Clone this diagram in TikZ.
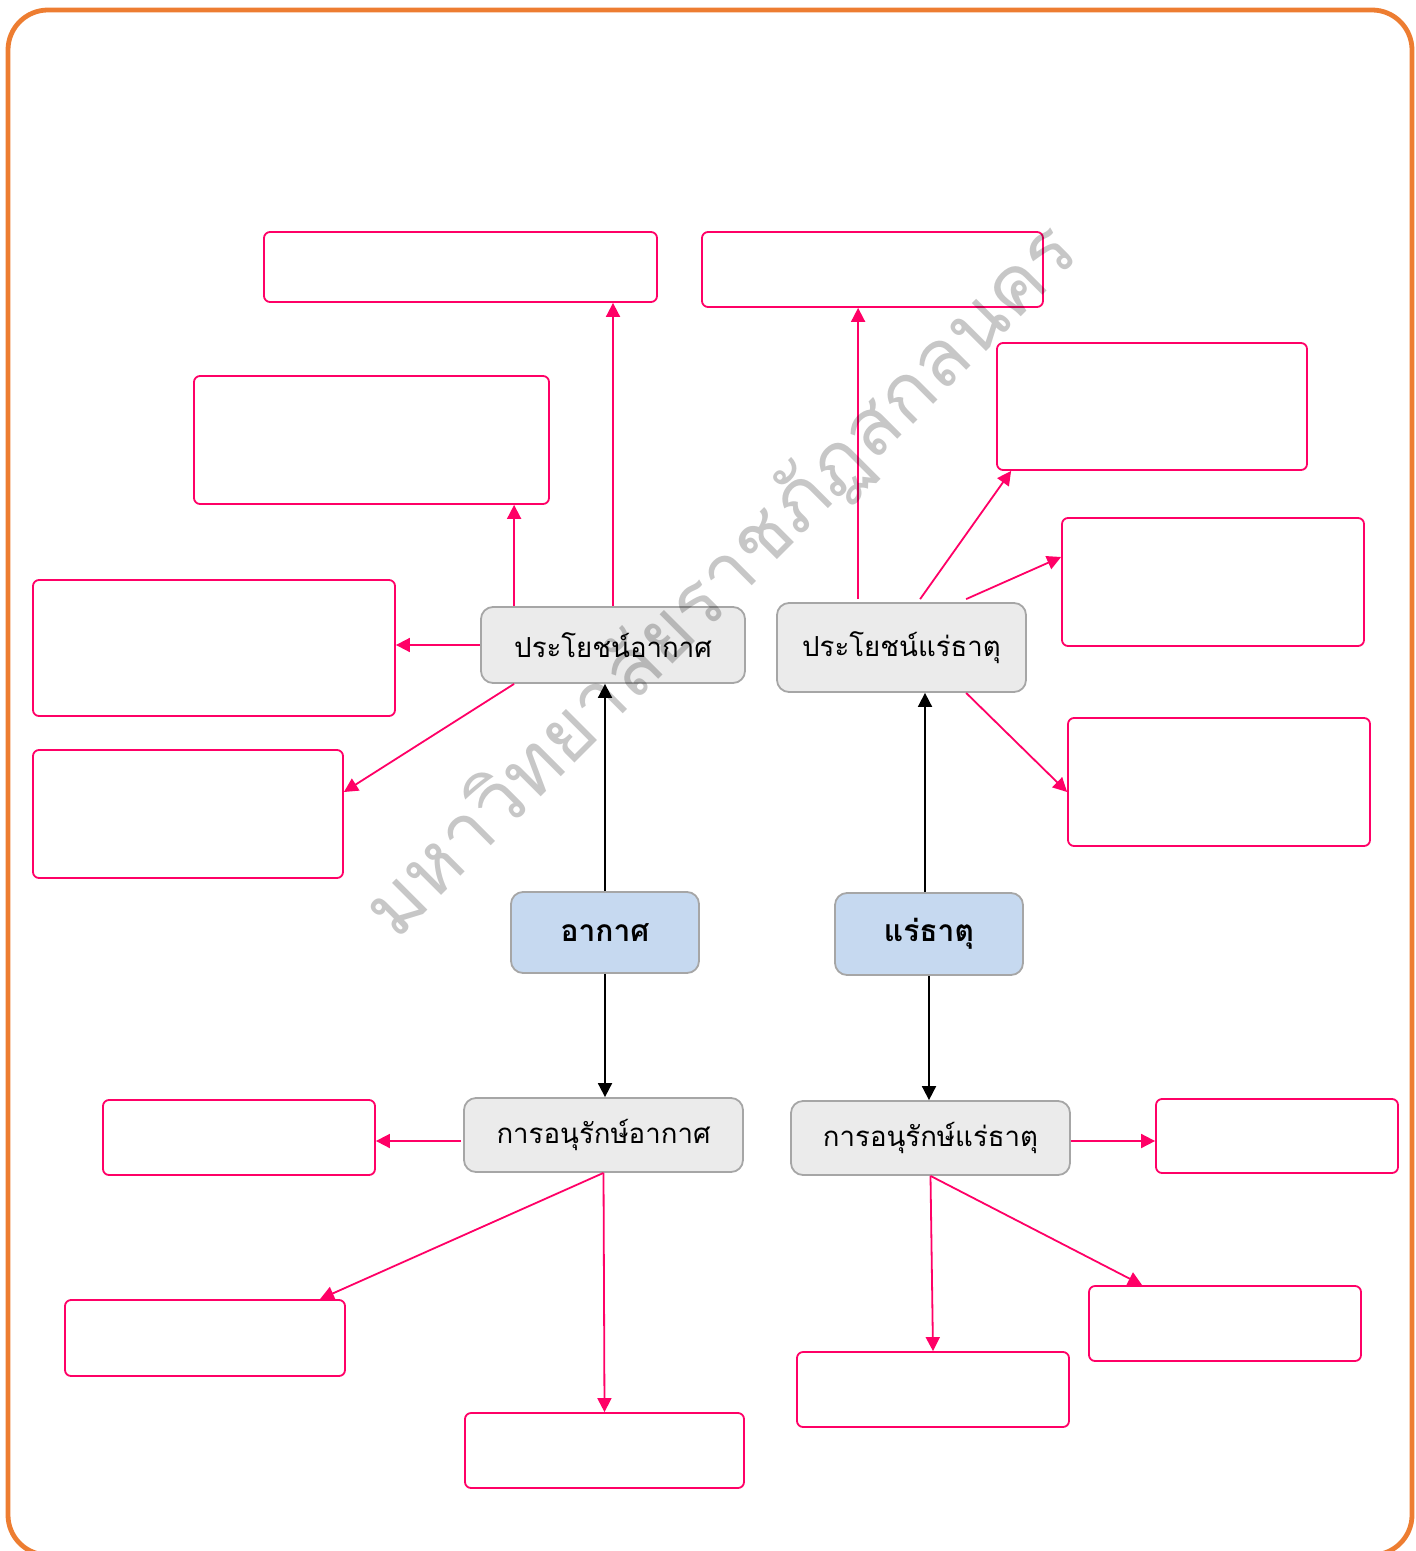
\documentclass[tikz,border=0pt]{standalone}
\usepackage{fontspec}
\usepackage{xcolor}
\usepackage{tikz}
\usetikzlibrary{arrows.meta,calc}
\newfontfamily\thaifont[Script=Thai]{Loma}
\definecolor{framecol}{HTML}{ED7D31}
\definecolor{pinkcol}{HTML}{FF0066}
\definecolor{boxgray}{HTML}{EBEBEB}
\definecolor{linegray}{HTML}{A6A6A6}
\definecolor{boxblue}{HTML}{C6D9F0}
\tikzset{
  frame/.style={draw=framecol, line width=2.4pt, rounded corners=20pt},
  blank/.style={draw=pinkcol, line width=0.9pt, rounded corners=3pt, inner sep=0pt},
  topic/.style={draw=linegray, line width=0.9pt, fill=boxgray, rounded corners=6pt,
    inner sep=0pt, font=\thaifont\fontsize{13.8}{16}\selectfont},
  mainbox/.style={draw=linegray, line width=0.9pt, fill=boxblue, rounded corners=6pt,
    inner sep=0pt, font=\thaifont\bfseries\fontsize{15}{18}\selectfont},
  pinkarrow/.style={draw=pinkcol, line width=0.9pt, -{Triangle[length=7pt,width=7pt]}},
  blackarrow/.style={draw=black, line width=0.9pt, -{Triangle[length=7pt,width=7pt]}}
}
\newcommand{\blankbox}[4]{\node[blank, minimum width=#3pt, minimum height=#4pt](#1) at #2{};}
\begin{document}
\begin{tikzpicture}[x=0.5pt, y=-0.5pt]
    \useasboundingbox (0, 0) rectangle (1416, 1551);
    % frame
    \draw[frame] (8, 10) rectangle (1412, 1555);

    % centre topics
    \node[mainbox, minimum width=94pt, minimum height=40.5pt](air) at (605, 932.5){อากาศ};
    \node[mainbox, minimum width=94pt, minimum height=41pt](mineral) at (929, 934){แร่ธาตุ};
    \node[topic, minimum width=132pt, minimum height=38pt](benefitAir) at (613, 645){ประโยชน์อากาศ};
    \node[topic, minimum width=124.5pt, minimum height=44.5pt](benefitMin) at (901.5, 647.5){ประโยชน์แร่ธาตุ};
    \node[topic, minimum width=139.5pt, minimum height=37pt](consAir) at (603.5, 1135){การอนุรักษ์อากาศ};
    \node[topic, minimum width=139.5pt, minimum height=37pt](consMin) at (930.5, 1138){การอนุรักษ์แร่ธาตุ};

    % empty boxes, air benefits
    \blankbox{airA}{(460.5, 267)}{196.5}{35}
    \blankbox{airB}{(371.5, 440)}{177.5}{64}
    \blankbox{airC}{(214, 648)}{181}{68}
    \blankbox{airD}{(188, 814)}{155}{64}
    % empty boxes, mineral benefits
    \blankbox{minA}{(872.5, 269.5)}{170.5}{37.5}
    \blankbox{minB}{(1152, 406.5)}{155}{63.5}
    \blankbox{minC}{(1213, 582)}{151}{64}
    \blankbox{minD}{(1219, 782)}{151}{64}
    % empty boxes, air conservation
    \blankbox{keepAirA}{(239, 1137.5)}{136}{37.5}
    \blankbox{keepAirB}{(205, 1338)}{140}{38}
    \blankbox{keepAirC}{(604.5, 1450.5)}{139.5}{37.5}
    % empty boxes, mineral conservation
    \blankbox{keepMinA}{(1277, 1136)}{121}{37}
    \blankbox{keepMinB}{(1225, 1323.5)}{136}{37.5}
    \blankbox{keepMinC}{(933, 1389.5)}{136}{37.5}

    % black arrows
    \draw[blackarrow] (air.north) -- (air.north |- benefitAir.south);
    \draw[blackarrow] ([xshift=-2pt]mineral.north) -- ([xshift=-2pt]mineral.north |- benefitMin.south);
    \draw[blackarrow] (air.south) -- (air.south |- consAir.north);
    \draw[blackarrow] (mineral.south) -- (mineral.south |- consMin.north);

    % air benefits
    \coordinate (ba1) at ([xshift=17pt]benefitAir.north west);
    \coordinate (ba2) at ([xshift=17pt]benefitAir.south west);
    \draw[pinkarrow] (benefitAir.north) -- (benefitAir.north |- airA.south);
    \draw[pinkarrow] (ba1) -- (ba1 |- airB.south);
    \draw[pinkarrow] (benefitAir.west) -- (benefitAir.west -| airC.east);
    \draw[pinkarrow] (ba2) -- ([yshift=11pt]airD.east);
    % mineral benefits
    \coordinate (bm1) at ([xshift=41pt, yshift=1.5pt]benefitMin.north west);
    \coordinate (bm2) at ([xshift=72pt, yshift=1.5pt]benefitMin.north west);
    \coordinate (bm3) at ([xshift=95pt, yshift=1.5pt]benefitMin.north west);
    \coordinate (bm4) at ([xshift=95pt]benefitMin.south west);
    \draw[pinkarrow] (bm1) -- (bm1 |- minA.south);
    \draw[pinkarrow] (bm2) -- ([xshift=7.5pt]minB.south west);
    \draw[pinkarrow] (bm3) -- ([yshift=12.5pt]minC.west);
    \draw[pinkarrow] (bm4) -- ([yshift=-5pt]minD.west);
    % air conservation
    \draw[pinkarrow] ([xshift=-1pt, yshift=-3pt]consAir.west) -- ([yshift=-3pt]consAir.west -| keepAirA.east);
    \draw[pinkarrow] (consAir.south) -- ([xshift=57.5pt]keepAirB.north);
    \draw[pinkarrow] (consAir.south) -- (keepAirC.north);
    % mineral conservation
    \draw[pinkarrow] ([yshift=-1.5pt]consMin.east) -- ([yshift=-1.5pt]consMin.east -| keepMinA.west);
    \draw[pinkarrow] (consMin.south) -- (keepMinC.north);
    \draw[pinkarrow] (consMin.south) -- ([xshift=27pt]keepMinB.north west);

    % watermark
    \node[rotate=45, text=black, text opacity=0.22, font=\thaifont\fontsize{39.5}{44}\selectfont](mark)
      at (722, 582){มหาวิทยาลัยราชภัฏสกลนคร};
\end{tikzpicture}
\end{document}
